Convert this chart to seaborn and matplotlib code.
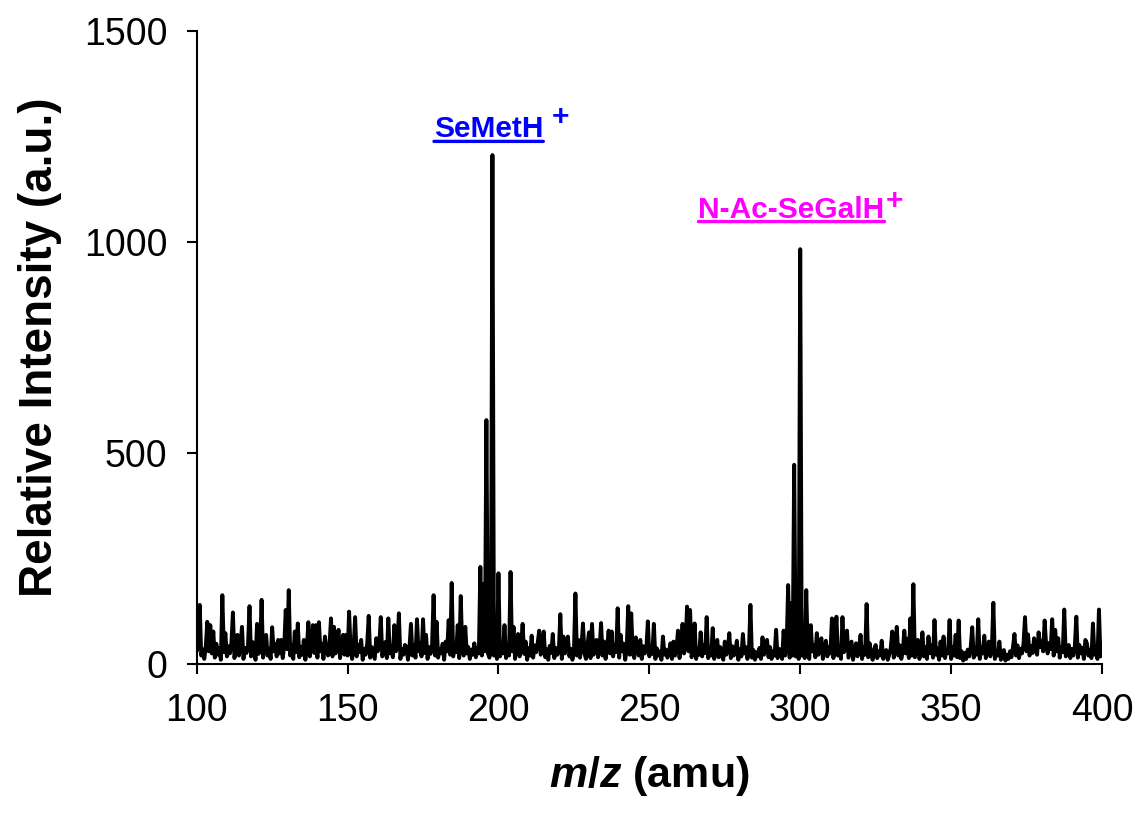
import numpy as np
import pandas as pd
import matplotlib
matplotlib.use("Agg")
import matplotlib.pyplot as plt
import seaborn as sns

# m/z axis: 100-400 amu sampled every 0.5 amu
mz_start, mz_stop, mz_step = 100.0, 400.0, 0.5

# Relative intensity, ten amu (20 samples) per row
intensity_rows = [
    [30, 45, 140, 20, 35, 12, 40, 100, 30, 92, 25, 77, 15, 48, 22, 38, 10, 163, 28, 73],      # 100
    [18, 42, 25, 50, 122, 14, 33, 69, 20, 45, 88, 12, 38, 26, 44, 137, 18, 52, 30, 10],       # 110
    [95, 24, 40, 152, 15, 46, 69, 20, 36, 12, 87, 30, 48, 18, 57, 25, 57, 14, 42, 128],       # 120
    [35, 175, 20, 45, 12, 77, 28, 96, 16, 40, 22, 57, 10, 38, 99, 18, 44, 92, 26, 92],        # 130
    [15, 99, 30, 48, 12, 65, 35, 20, 42, 108, 18, 88, 25, 50, 81, 14, 38, 69, 22, 69],        # 140
    [20, 124, 35, 12, 40, 111, 18, 46, 28, 57, 10, 36, 22, 48, 114, 15, 40, 26, 12, 61],      # 150
    [30, 44, 111, 18, 38, 52, 14, 108, 25, 42, 16, 92, 30, 48, 120, 12, 35, 22, 45, 41],      # 160
    [10, 38, 95, 20, 44, 15, 106, 30, 50, 18, 106, 26, 69, 12, 40, 24, 46, 163, 20, 100],     # 170
    [15, 36, 25, 48, 10, 53, 30, 104, 22, 192, 18, 44, 28, 92, 14, 161, 35, 20, 88, 25],      # 180
    [40, 12, 34, 22, 49, 16, 38, 25, 230, 20, 190, 30, 578, 25, 15, 30, 1206, 20, 40, 12],    # 190
    [215, 18, 42, 25, 92, 14, 36, 20, 218, 30, 88, 12, 40, 71, 18, 46, 95, 24, 53, 10],       # 200
    [38, 20, 67, 15, 44, 28, 50, 79, 22, 40, 77, 16, 35, 10, 43, 26, 71, 14, 38, 22],         # 210
    [30, 118, 12, 65, 25, 42, 65, 18, 36, 10, 28, 167, 20, 57, 15, 40, 96, 25, 12, 46],       # 220
    [75, 14, 95, 22, 40, 57, 16, 35, 97, 20, 53, 12, 38, 79, 25, 77, 18, 44, 28, 132],        # 230
    [15, 69, 30, 48, 10, 36, 137, 22, 120, 26, 14, 63, 38, 20, 57, 12, 42, 25, 35, 101],      # 240
    [18, 40, 24, 95, 12, 37, 20, 30, 10, 65, 22, 34, 15, 28, 49, 12, 53, 20, 36, 79],         # 250
    [14, 42, 95, 25, 48, 136, 30, 128, 16, 40, 96, 12, 35, 22, 75, 18, 44, 26, 111, 14],      # 260
    [38, 20, 85, 12, 30, 57, 16, 40, 24, 10, 53, 22, 36, 73, 14, 42, 20, 30, 55, 10],         # 270
    [35, 18, 71, 25, 40, 12, 30, 140, 15, 33, 10, 28, 18, 38, 12, 63, 22, 34, 57, 16],        # 280
    [40, 12, 30, 20, 81, 14, 36, 25, 12, 79, 20, 45, 187, 15, 144, 20, 472, 18, 30, 12],      # 290
    [983, 20, 40, 14, 175, 25, 12, 92, 30, 45, 16, 73, 22, 38, 61, 12, 30, 55, 18, 40],       # 300
    [25, 108, 14, 42, 112, 20, 36, 12, 111, 28, 44, 79, 15, 34, 53, 10, 30, 49, 18, 36],      # 310
    [69, 12, 40, 22, 142, 16, 49, 25, 10, 34, 45, 14, 30, 20, 55, 12, 26, 33, 10, 22],        # 320
    [38, 77, 15, 40, 88, 20, 44, 12, 30, 79, 25, 60, 14, 108, 20, 189, 16, 36, 57, 12],       # 330
    [30, 75, 18, 40, 12, 65, 26, 44, 15, 104, 22, 38, 10, 53, 20, 65, 14, 36, 25, 104],       # 340
    [12, 40, 20, 69, 16, 103, 14, 30, 8, 26, 12, 34, 18, 40, 87, 15, 36, 22, 106, 12],        # 350
    [40, 25, 67, 14, 30, 53, 18, 36, 145, 12, 28, 20, 53, 10, 25, 33, 8, 22, 12, 30],         # 360
    [16, 40, 71, 20, 44, 14, 36, 25, 48, 111, 30, 70, 20, 42, 26, 61, 35, 22, 75, 40],        # 370
    [55, 30, 103, 45, 25, 50, 35, 106, 20, 81, 30, 61, 15, 40, 28, 129, 18, 38, 45, 14],      # 380
    [36, 20, 42, 112, 15, 45, 25, 38, 12, 57, 49, 20, 34, 14, 96, 22, 40, 12, 129, 18],       # 390
    [40],                                                                                       # 400
]

intensity = np.concatenate([np.asarray(r, dtype=float) for r in intensity_rows])
mz = mz_start + mz_step * np.arange(intensity.size)
spectrum = pd.DataFrame({"mz": mz, "intensity": intensity})

x_ticks = [100, 150, 200, 250, 300, 350, 400]
y_ticks = [0, 500, 1000, 1500]

# Peak labels: text, colour, anchor (m/z, intensity) of the label baseline
peak_labels = ["SeMetH", "N-Ac-SeGalH"]
peak_colors = ["#0000FF", "#FF00FF"]
label_anchor_mz = [196.75, 297.1]
label_anchor_int = [1248, 1058]
plus_offsets = [(5.8, 13.2), (0.6, 10.8)]

sns.set_style("ticks")
plt.rcParams["font.family"] = ["Liberation Sans", "DejaVu Sans"]
plt.rcParams["text.color"] = "black"
plt.rcParams["axes.labelcolor"] = "black"
plt.rcParams["xtick.color"] = "black"
plt.rcParams["ytick.color"] = "black"
plt.rcParams["mathtext.fontset"] = "custom"
plt.rcParams["mathtext.it"] = "Liberation Sans:italic:bold"
plt.rcParams["mathtext.rm"] = "Liberation Sans:bold"

fig = plt.figure(figsize=(11.41, 8.14), dpi=100)
ax = fig.add_axes([0.1724, 0.1843, 0.9658 - 0.1724, 0.9619 - 0.1843])

sns.lineplot(data=spectrum, x="mz", y="intensity", ax=ax, color="black",
             linewidth=2.8, estimator=None, sort=False)

ax.set_xlim(100, 400)
ax.set_ylim(0, 1500)
ax.set_xticks(x_ticks)
ax.set_yticks(y_ticks)
ax.tick_params(axis="both", direction="out", length=7, width=1.5,
               labelsize=27, pad=14, colors="black", labelcolor="black")
for side in ["top", "right"]:
    ax.spines[side].set_visible(False)
for side in ["left", "bottom"]:
    ax.spines[side].set_linewidth(1.5)
    ax.spines[side].set_color("black")

ax.set_xlabel(r"$m/z$ (amu)", fontsize=31, fontweight="bold", labelpad=18,
              color="black")
ax.set_ylabel("Relative Intensity (a.u.)", fontsize=33, fontweight="bold",
              labelpad=16, color="black")

for name, col, xm, yi, (dx, dy) in zip(peak_labels, peak_colors, label_anchor_mz,
                                       label_anchor_int, plus_offsets):
    t = ax.text(xm, yi, name, color=col, fontsize=21.5, fontweight="bold",
                ha="center", va="baseline")
    # underline along the lower edge of the label
    ax.annotate("", xy=(0, 0.07), xycoords=t, xytext=(1, 0.07), textcoords=t,
                arrowprops=dict(arrowstyle="-", color=col, lw=2.4,
                                shrinkA=0, shrinkB=0))
    # superscript charge
    ax.annotate("+", xy=(1, 0), xycoords=t, xytext=(dx, dy),
                textcoords="offset points", color=col, fontsize=21.5,
                fontweight="bold", ha="left", va="baseline")

fig.savefig("out.png", dpi=100, facecolor="white")
